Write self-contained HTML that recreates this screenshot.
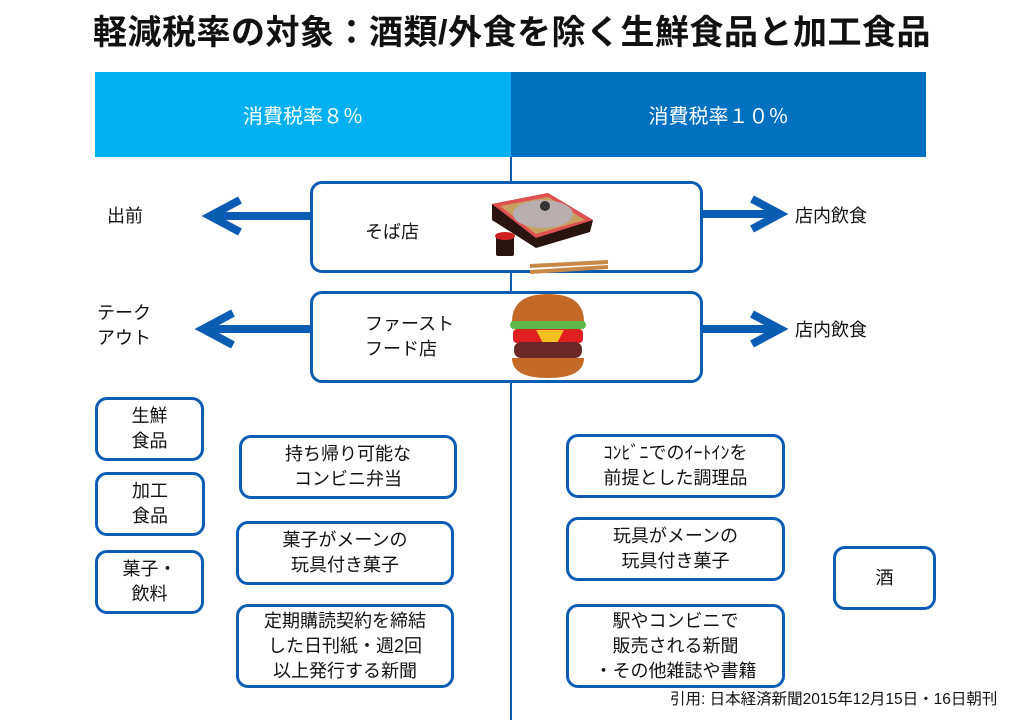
<!DOCTYPE html>
<html><head><meta charset="utf-8"><style>
*{margin:0;padding:0;box-sizing:border-box}
body{width:1024px;height:720px;background:#fff;position:relative;overflow:hidden;font-family:"Liberation Sans","Noto Sans CJK JP",sans-serif;color:#111}
.a{position:absolute}
.box{position:absolute;border:3px solid #0b5db4;border-radius:12px;display:flex;align-items:center;justify-content:center;text-align:center;font-size:18px;line-height:25px;background:#fff}
.lbl{position:absolute;font-size:18px;line-height:25px}
</style></head><body>
<div class="a" style="left:0;top:11px;width:1024px;text-align:center;font-size:34px;font-weight:bold;line-height:44px;white-space:nowrap;letter-spacing:0.5px">軽減税率の対象：酒類/外食を除く生鮮食品と加工食品</div>
<div class="a" style="left:95px;top:72px;width:416px;height:85px;background:#00b0f0;color:#fff;font-size:20px;display:flex;align-items:center;justify-content:center">消費税率８％</div>
<div class="a" style="left:511px;top:72px;width:415px;height:85px;background:#0070c0;color:#fff;font-size:20px;display:flex;align-items:center;justify-content:center">消費税率１０％</div>
<div class="a" style="left:510px;top:157px;width:2px;height:563px;background:#0b5db4"></div>
<svg class="a" style="left:0;top:0" width="1024" height="720">
<g stroke="#0b5db4" stroke-width="8" fill="none" stroke-linejoin="miter">
<line x1="310" y1="216" x2="212" y2="216"/><polyline points="240,200 210,216 240,232"/>
<line x1="310" y1="329" x2="205" y2="329"/><polyline points="233,313 203,329 233,345"/>
<line x1="702" y1="214" x2="776" y2="214"/><polyline points="752,199 780,214 752,229"/>
<line x1="702" y1="329" x2="776" y2="329"/><polyline points="752,314 780,329 752,344"/>
</g></svg>
<div class="box" style="left:310px;top:181px;width:393px;height:92px;justify-content:flex-start;padding-left:52px;padding-top:10px">そば店</div>
<div class="box" style="left:310px;top:291px;width:393px;height:92px;justify-content:flex-start;padding-left:52px;text-align:left">ファースト<br>フード店</div>
<svg class="a" style="left:488px;top:190px" width="130" height="90">
<polygon points="4,14 60,3 105,30 102,42 48,58 4,30" fill="#2a1410"/>
<polygon points="4,14 60,3 105,30 48,48" fill="#e05050"/>
<polygon points="12,16 60,7 97,30 48,44" fill="#c8a060"/>
<ellipse cx="55" cy="24" rx="30" ry="14" fill="#b8aeb0"/>
<circle cx="57" cy="16" r="5" fill="#333"/>
<rect x="8" y="46" width="18" height="20" rx="2" fill="#2a1410"/><ellipse cx="17" cy="46" rx="10" ry="4" fill="#d02020"/>
<line x1="42" y1="76" x2="120" y2="72" stroke="#c88848" stroke-width="4"/><line x1="42" y1="82" x2="120" y2="77" stroke="#c88848" stroke-width="4"/>
</svg>
<svg class="a" style="left:508px;top:292px" width="80" height="90">
<path d="M4,30 Q4,2 40,2 Q76,2 76,30 Z" fill="#c46a28"/>
<rect x="2" y="29" width="76" height="8" rx="4" fill="#5cb848"/>
<rect x="5" y="37" width="70" height="14" rx="4" fill="#e02020"/>
<polygon points="28,38 56,38 42,64" fill="#f4c020"/>
<rect x="6" y="50" width="68" height="16" rx="7" fill="#6a2828"/>
<path d="M4,66 L76,66 Q76,86 40,86 Q4,86 4,66Z" fill="#c46a28"/>
</svg>
<div class="lbl" style="left:107px;top:204px">出前</div>
<div class="lbl" style="left:97px;top:301px">テーク<br>アウト</div>
<div class="lbl" style="left:795px;top:204px">店内飲食</div>
<div class="lbl" style="left:795px;top:318px">店内飲食</div>
<div class="box" style="left:95px;top:397px;width:109px;height:64px">生鮮<br>食品</div>
<div class="box" style="left:95px;top:472px;width:110px;height:64px">加工<br>食品</div>
<div class="box" style="left:95px;top:550px;width:109px;height:64px">菓子・<br>飲料</div>
<div class="box" style="left:239px;top:435px;width:218px;height:64px">持ち帰り可能な<br>コンビニ弁当</div>
<div class="box" style="left:236px;top:521px;width:218px;height:64px">菓子がメーンの<br>玩具付き菓子</div>
<div class="box" style="left:236px;top:604px;width:218px;height:84px">定期購読契約を締結<br>した日刊紙・週2回<br>以上発行する新聞</div>
<div class="box" style="left:566px;top:434px;width:219px;height:64px;white-space:nowrap">ｺﾝﾋﾞﾆでのｲｰﾄｲﾝを<br>前提とした調理品</div>
<div class="box" style="left:566px;top:517px;width:219px;height:64px">玩具がメーンの<br>玩具付き菓子</div>
<div class="box" style="left:566px;top:604px;width:219px;height:84px">駅やコンビニで<br>販売される新聞<br>・その他雑誌や書籍</div>
<div class="box" style="left:833px;top:546px;width:103px;height:64px">酒</div>
<div class="a" style="left:670px;top:690px;font-size:15.5px;line-height:20px;white-space:nowrap">引用: 日本経済新聞2015年12月15日・16日朝刊</div>
</body></html>
